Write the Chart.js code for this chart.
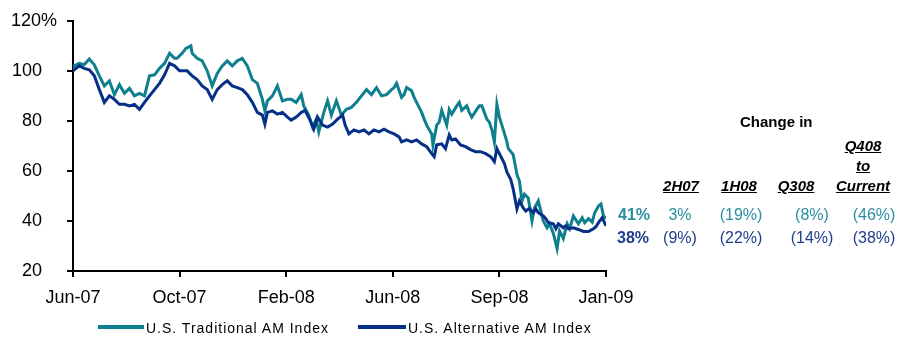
<!DOCTYPE html>
<html>
<head>
<meta charset="utf-8">
<script src="https://cdn.jsdelivr.net/npm/chart.js@4/dist/chart.umd.min.js"></script>
<style>
  html, body { margin: 0; padding: 0; background: #ffffff; }
  #wrap { position: relative; width: 897px; height: 337px; font-family: "Liberation Sans", Arial, sans-serif; }
  #chart { position: absolute; left: 0; top: 0; }
  .t { position: absolute; white-space: nowrap; line-height: 1; }
  .hdr { font-size: 15px; font-weight: bold; font-style: italic; text-decoration: underline; color: #000; transform: translateX(-50%); }
  .val { font-size: 16px; transform: translateX(-50%); }
  .big { font-size: 16px; font-weight: bold; }
  .title { font-size: 15px; font-weight: bold; color: #000; }
  .leg { font-size: 14px; letter-spacing: 1px; color: #000; }
  .sw { position: absolute; height: 4px; }
</style>
</head>
<body>
<div id="wrap">
  <canvas id="chart" width="897" height="337"></canvas>
</div>
<script>
// Axis labels
const tickLabels = ['Jun-07', 'Oct-07', 'Feb-08', 'Jun-08', 'Sep-08', 'Jan-09'];
const daysPerLabel = 85;

// Series names
const seriesNames = ['U.S. Traditional AM Index', 'U.S. Alternative AM Index'];

// U.S. Traditional AM Index (rebased to 100)
const tradDays = [0,1,5,9,13,17,21,25,29,33,37,41,45,49,53,57,61,65,69,73,77,81,83,87,90,94,95,99,103,107,111,115,119,123,127,131,135,139,143,147,151,153,155,159,163,167,171,174,178,182,184,188,191,194,196,200,203,206,210,214,218,222,226,230,234,238,242,246,250,254,256,258,262,264,266,270,272,274,278,280,282,286,287,290,292,294,298,300,302,306,308,310,314,316,318,322,324,326,330,332,334,336,338,340,342,346,347,351,354,356,358,360,363,366,368,371,375,378,380,383,386,388,391,394,396,399,403,406,408,411,414,416,419,421,423,425];
const tradValues = [100,102,103,102.5,104.7,102.4,98,94,96,90.5,94.5,91,93,90,91,90,98,98.4,101,103,107,105,105,107,109,110,107,105,104,100,94,99,102,104,102,104,105,102,96.5,95,88.6,84,88,90,94,88,88.6,88.6,87.4,90.5,86,82.3,77.5,80.7,75.6,83.4,88,82.3,88,82.3,84.6,85.4,87.4,90,92.5,90.5,93.3,90,90.5,92.5,93.3,95,89.4,90.5,93.3,92,89.4,87.4,83.4,80.7,78.3,74.8,70.4,78.3,79.5,84.2,78.3,84.6,82.7,86,87.4,84.2,86,83.4,81.5,84.6,86,86,80.7,79.5,76.4,71.6,86.6,81.5,78.3,71.6,69,66.5,58.6,55.9,48,50.7,49.2,40,45.2,48,40,37.3,38.9,35,29,36,33,38.9,36.9,42,38.9,41.3,39.3,40.9,39.5,43.3,46,46.8,42,41];

// U.S. Alternative AM Index (rebased to 100)
const altDays = [0,1,5,9,13,17,21,25,29,33,37,41,45,49,53,57,61,65,69,73,77,81,85,91,95,99,103,107,111,115,119,123,127,131,135,139,143,147,151,153,155,159,163,167,171,174,178,182,185,189,192,195,199,203,207,211,215,217,220,224,228,232,236,240,244,248,252,256,260,262,266,270,274,278,282,286,288,290,294,297,300,302,305,309,313,317,321,325,329,333,336,338,340,344,346,349,351,354,356,359,361,364,367,369,371,375,377,379,383,385,387,391,393,395,399,403,407,411,415,417,419,422,425];
const altValues = [100,100.4,102,101,100.4,98,92.5,87.4,90,88.6,86.6,86.6,86,86.6,84.6,87.4,90,92.5,95,98.4,103,102,100,100,98,96.5,94,92.5,88.6,92.5,94.5,96,94,93.3,92.5,90.5,87.4,83.4,82.3,78.7,83.4,84,82.7,83.4,81.5,80.3,81.5,83.4,84.2,80.3,76.7,81.5,78.3,77.5,78.7,80.7,82.3,78.3,74.8,76.4,75.6,76.4,74.8,76.4,75.6,76.7,75.6,74.8,73.6,71.6,72.4,71.6,72.4,70.8,69.7,66.9,65.7,70.4,70.8,68.9,74.4,72.4,72.8,70.4,69.7,68.5,67.7,67.7,66.9,65.7,63.7,68.9,66.9,62.9,59.5,56.7,52.7,44.8,48,45.2,44,45,43.3,44.8,43.3,42,40.9,39.3,38.9,36.9,38.9,37.3,38.1,36.9,37.3,36.6,35.8,35.8,36.9,37.7,39.3,41.3,38];

// Change table
const tableTitle = 'Change in';
const periodHeaders = ['2H07', '1H08', 'Q308', ['Q408', 'to', 'Current']];
const tradLatest = '41%';
const altLatest = '38%';
const tradChanges = ['3%', '(19%)', '(8%)', '(46%)'];
const altChanges = ['(9%)', '(22%)', '(14%)', '(38%)'];

const TEAL = '#0E7F8E';
const NAVY = '#062F87';
const TEAL_TEXT = '#2A8FA1';
const NAVY_TEXT = '#1F3E8E';

const toPoints = (xs, ys) => xs.map((x, i) => ({ x: x, y: ys[i] }));

new Chart(document.getElementById('chart'), {
  type: 'line',
  data: {
    datasets: [
      { label: seriesNames[0], data: toPoints(tradDays, tradValues), borderColor: TEAL, borderWidth: 3, pointRadius: 0, tension: 0, order: 2 },
      { label: seriesNames[1], data: toPoints(altDays, altValues), borderColor: NAVY, borderWidth: 3, pointRadius: 0, tension: 0, order: 1 }
    ]
  },
  options: {
    responsive: false,
    animation: false,
    events: [],
    layout: { padding: { left: 0, right: 291, top: 19, bottom: 0 } },
    plugins: { legend: { display: false }, tooltip: { enabled: false } },
    scales: {
      x: {
        type: 'linear',
        min: 0,
        max: daysPerLabel * (tickLabels.length - 1),
        afterFit: (s) => { s.height = 66; },
        afterBuildTicks: (s) => { s.ticks = tickLabels.map((_, i) => ({ value: i * daysPerLabel })); },
        ticks: {
          autoSkip: false, maxRotation: 0, padding: 10,
          color: '#000', font: { family: '"Liberation Sans", Arial, sans-serif', size: 18 },
          callback: (v) => tickLabels[Math.round(v / daysPerLabel)]
        },
        grid: { display: true, drawOnChartArea: false, drawTicks: true, tickLength: 6, color: '#000', lineWidth: 2 },
        border: { display: true, color: '#000', width: 2 }
      },
      y: {
        min: 20,
        max: 120,
        afterFit: (s) => { s.width = 73; },
        ticks: {
          stepSize: 20, padding: 10,
          color: '#000', font: { family: '"Liberation Sans", Arial, sans-serif', size: 18 },
          callback: (v) => v === 120 ? v + '%' : v + '\u2007\u2008'
        },
        grid: { display: true, drawOnChartArea: false, drawTicks: true, tickLength: 6, color: '#000', lineWidth: 2 },
        border: { display: true, color: '#000', width: 2 }
      }
    }
  }
});

// Legend and change table as positioned text
const wrap = document.getElementById('wrap');
function addText(txt, cls, left, top, color) {
  const d = document.createElement('div');
  d.className = 't ' + cls;
  d.textContent = txt;
  d.style.left = left + 'px';
  d.style.top = top + 'px';
  if (color) d.style.color = color;
  wrap.appendChild(d);
  return d;
}
function addSwatch(color, left, width, top) {
  const d = document.createElement('div');
  d.className = 'sw';
  d.style.background = color;
  d.style.left = left + 'px';
  d.style.width = width + 'px';
  d.style.top = top + 'px';
  wrap.appendChild(d);
}

addSwatch(TEAL, 98, 46, 325);
addText(seriesNames[0], 'leg', 146, 321);
addSwatch(NAVY, 358, 48, 325);
addText(seriesNames[1], 'leg', 408, 321);

addText(tableTitle, 'title', 740, 114);

const headerCenters = [681, 739, 796, 863];
const valueCenters = [680, 741, 812, 874];
periodHeaders.forEach((h, i) => {
  const lines = Array.isArray(h) ? h : [h];
  lines.forEach((line, j) => {
    const top = 178 - (lines.length - 1 - j) * 20;
    addText(line, 'hdr', headerCenters[i], top);
  });
});

addText(tradLatest, 'big', 618, 207, TEAL_TEXT);
addText(altLatest, 'big', 617, 230, NAVY_TEXT);
tradChanges.forEach((v, i) => addText(v, 'val', valueCenters[i], 207, TEAL_TEXT));
altChanges.forEach((v, i) => addText(v, 'val', valueCenters[i], 230, NAVY_TEXT));
</script>
</body>
</html>
